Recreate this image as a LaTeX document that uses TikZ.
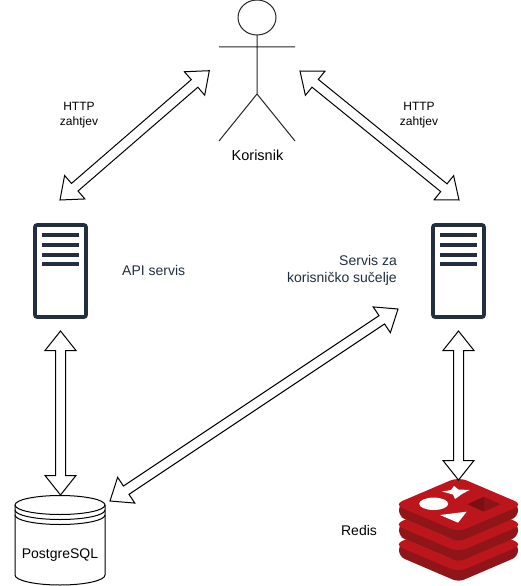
\documentclass[tikz,border=0pt]{standalone}
\usepackage{fontspec}
\setmainfont{Liberation Sans}
\usetikzlibrary{calc,shapes.geometric}
\definecolor{srv}{HTML}{232F3E}
\definecolor{rtop}{HTML}{BC151C}
\definecolor{rside}{HTML}{8F1519}
\definecolor{rdark}{HTML}{7A1014}
\definecolor{rdarkb}{HTML}{8C1418}
\definecolor{rpale}{HTML}{CF5A5E}
\newcommand{\dblarrow}[2]{%
  \draw[blockarrow]
    (#1)
    -- ($(#1)!19.5pt!(#2)!15.5pt!90:(#2)$)
    -- ($(#1)!19.5pt!(#2)!5pt!90:(#2)$)
    -- ($(#2)!19.5pt!(#1)!5pt!-90:(#1)$)
    -- ($(#2)!19.5pt!(#1)!15.5pt!-90:(#1)$)
    -- (#2)
    -- ($(#2)!19.5pt!(#1)!15.5pt!90:(#1)$)
    -- ($(#2)!19.5pt!(#1)!5pt!90:(#1)$)
    -- ($(#1)!19.5pt!(#2)!5pt!-90:(#2)$)
    -- ($(#1)!19.5pt!(#2)!15.5pt!-90:(#2)$)
    -- cycle;}
\newcommand{\serverico}[2]{%
  \begin{scope}[shift={(#1,#2)}]
    \draw[srv,line width=3.6pt,rounded corners=2pt,fill=white] (0,0) rectangle (51,92);
    \foreach \yy in {10,20,30,39} \draw[srv,line width=3.8pt] (7,\yy) -- (44,\yy);
  \end{scope}}
\newcommand{\redisslab}[1]{%
  \begin{scope}[yshift=-#1pt]
    \fill[rside,rounded corners=6pt] (399,504) -- (399,516.5) -- (458.5,542) -- (518,516.5) -- (518,504) -- (458.5,479) -- cycle;
    \fill[rtop,rounded corners=9pt] (394,504.5) -- (458.5,477) -- (523,504.5) -- (458.5,532) -- cycle;
  \end{scope}}
\tikzset{
  blockarrow/.style={draw=black,fill=white,line width=1pt,line join=miter},
  lbl/.style={inner sep=0pt,align=center,font=\fontsize{12}{15}\selectfont},
  big/.style={inner sep=0pt,font=\fontsize{14.5}{17}\selectfont},
  dark/.style={text=srv},
  actorline/.style={draw=black!85,line width=1pt},
  cyl/.style={draw=black,line width=1pt}
}
\begin{document}
\begin{tikzpicture}[x=1pt,y=-1pt]
\useasboundingbox (0,0) rectangle (520,586);
\fill[white] (0,0) rectangle (520,586);
% actor
\draw[actorline] (257,17.5) ellipse [x radius=19,y radius=17.5];
\node[inner sep=0pt,minimum size=0pt] (head) at (257,35) {};
\coordinate (hip) at (257,94);
\coordinate (armL) at (219,47);
\coordinate (armR) at (295,47);
\coordinate (footL) at (219,141);
\coordinate (footR) at (295,141);
\draw[actorline] (head) -- (hip) (armL) -- (armR) (footL) -- (hip) -- (footR);
\node[big] (kor) at (257.5,155.5) {Korisnik};
% servers
\serverico{35}{225}
\serverico{433}{225}
% cylinder
\draw[cyl,fill=white] (15,505) -- (15,575) arc[start angle=180,end angle=0,x radius=45,y radius=10] -- (105,505) arc[start angle=0,end angle=-180,x radius=45,y radius=9.5] -- cycle;
\draw[cyl] (15,505) arc[start angle=180,end angle=0,x radius=45,y radius=9.5];
\draw[cyl] (15,510) arc[start angle=180,end angle=0,x radius=45,y radius=9.5];
\draw[cyl] (15,515) arc[start angle=180,end angle=0,x radius=45,y radius=9.5];
\node[lbl,font=\fontsize{14}{17}\selectfont] (pg) at (60,555) {PostgreSQL};
% redis
\redisslab{40}
\draw[rpale,line width=.5pt] (401,537) -- (452,559);
\redisslab{20}
\draw[rpale,line width=.5pt] (401,517) -- (452,539);
\redisslab{0}
\fill[white] (433.7,503.8) ellipse [x radius=14.5,y radius=6.2];
\fill[white] (454,486) -- (458.5,489.5) -- (469.5,490) -- (462,494) -- (455,499) -- (453,494.5) -- (442,491.5) -- (451,490) -- cycle;
\fill[white] (440,515) -- (466.7,511.7) -- (458,522.7) -- cycle;
\fill[rdark] (467.5,504.3) -- (484,496.7) -- (484,511.7) -- cycle;
\fill[rdarkb] (484,496.7) -- (500.5,504.3) -- (484,511.7) -- cycle;
\node[lbl,font=\fontsize{14}{17}\selectfont] (red) at (359,530) {Redis};
% labels
\node[lbl] (h1) at (79,115) {HTTP\\zahtjev};
\node[lbl] (h2) at (419,115) {HTTP\\zahtjev};
\node[big,dark,anchor=west,font=\fontsize{14}{17}\selectfont] (api) at (122,270) {API servis};
\node[big,dark,align=right,anchor=east,font=\fontsize{14}{17}\selectfont] (ui) at (397,270.5) {Servis za\\korisničko sučelje};
% connector ends
\coordinate (a1) at (209.3,70.7);
\coordinate (a2) at (60,200);
\coordinate (b1) at (300,71);
\coordinate (b2) at (459,200);
\coordinate (c1) at (60.5,331);
\coordinate (c2) at (60.5,495);
\coordinate (d1) at (458.5,331);
\coordinate (d2) at (458.5,480);
\coordinate (e1) at (398,309);
\coordinate (e2) at (110,501);
\dblarrow{a1}{a2}
\dblarrow{b1}{b2}
\dblarrow{c1}{c2}
\dblarrow{d1}{d2}
\dblarrow{e1}{e2}
\end{tikzpicture}
\end{document}
